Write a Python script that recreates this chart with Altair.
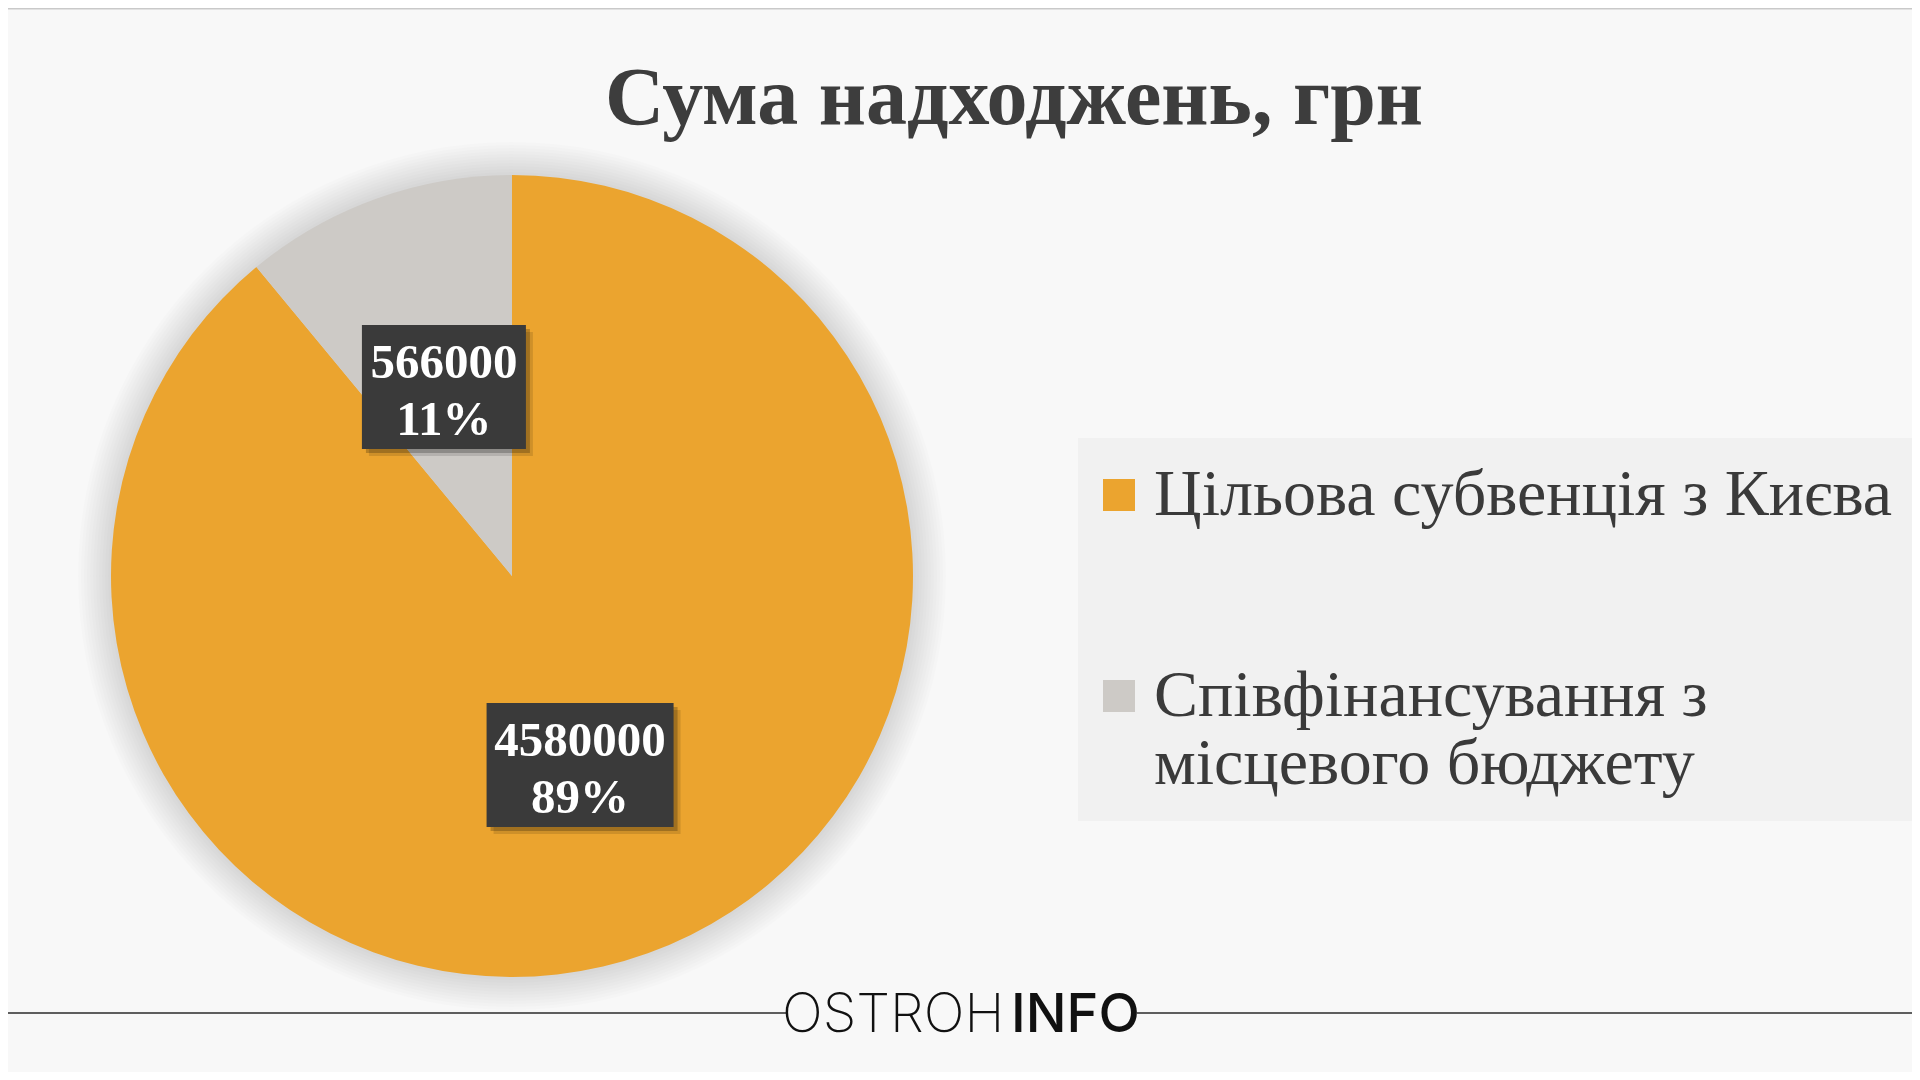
import json
import altair as alt
import pandas as pd

# ---- data ----
categories = ["Цільова субвенція з Києва", "Співфінансування з місцевого бюджету"]
amounts = [4580000, 566000]
legend_lines = [["Цільова субвенція з Києва"], ["Співфінансування з", "місцевого бюджету"]]
slice_colors = ["#EBA42F", "#CDCAC6"]
title_text = "Сума надходжень, грн"
brand_light = "OSTROH"
brand_bold = "INFO"

df = pd.DataFrame({
    "category": categories,
    "amount": amounts,
    "slice_order": list(range(len(categories))),
})

# ---- layout / style ----
W, H = 1904, 1064
CX, CY, R = 504, 568, 401
LABEL_R = 201
SERIF = "Liberation Serif"
dummy = alt.Data(values=[{}])

# multi-line legend labels
label_expr = "datum.label"
for name, lines in zip(categories, legend_lines):
    if len(lines) > 1:
        label_expr = (f"datum.label === {json.dumps(name, ensure_ascii=False)} ? "
                      f"{json.dumps(lines, ensure_ascii=False)} : " + label_expr)

legend = alt.Legend(
    title=None, orient="none", legendX=1070, legendY=430,
    fillColor="#f1f1f1", padding=24, rowPadding=135,
    symbolType="square", symbolSize=1024, symbolStrokeWidth=0, symbolOffset=-16,
    labelFont=SERIF, labelFontSize=66, labelColor="#3a3a3a",
    labelLimit=1000, labelOffset=2, labelBaseline="middle",
    labelExpr=label_expr,
)

# soft shadow around the pie
rings = []
for d in range(3, 34, 3):
    rings.append(
        alt.Chart(dummy).mark_arc(radius=R + d, theta=0, theta2=6.2832,
                                  color="#000000", opacity=0.01)
        .encode(x=alt.value(CX), y=alt.value(CY))
    )

pie = alt.Chart(df).mark_arc(radius=R).encode(
    theta=alt.Theta("amount:Q", stack=True),
    order=alt.Order("slice_order:Q"),
    color=alt.Color("category:N",
                    scale=alt.Scale(domain=categories, range=slice_colors),
                    legend=legend),
    x=alt.value(CX), y=alt.value(CY),
)

lab = alt.Chart(df).transform_joinaggregate(
    total="sum(amount)"
).transform_window(
    cum="sum(amount)", sort=[alt.SortField("slice_order", order="ascending")], frame=[None, 0]
).transform_calculate(
    mid="2 * PI * (datum.cum - datum.amount / 2) / datum.total",
    lx=f"{CX} + {LABEL_R} * sin(datum.mid)",
    ly=f"{CY} - {LABEL_R} * cos(datum.mid)",
    bw="23 * length(format(datum.amount, 'd')) + 26",
    bx1="datum.lx - datum.bw / 2",
    bx2="datum.lx + datum.bw / 2",
    by1="datum.ly - 62",
    by2="datum.ly + 62",
    txt="format(datum.amount, 'd') + '\\n' + format(datum.amount / datum.total, '.0%')",
)


def box(dx, dy, color, opacity):
    return lab.mark_rect(color=color, opacity=opacity,
                         xOffset=dx, x2Offset=dx, yOffset=dy, y2Offset=dy).encode(
        x=alt.X("bx1:Q", scale=None, axis=None), x2="bx2:Q",
        y=alt.Y("by1:Q", scale=None, axis=None), y2="by2:Q",
    )


box_shadows = [box(7, 7, "#000000", 0.12), box(4, 4, "#000000", 0.22)]
boxes = box(0, 0, "#3a3a3a", 1)

texts = lab.mark_text(font=SERIF, fontSize=49, fontWeight="bold", color="#ffffff",
                      lineBreak="\n", lineHeight=57, dy=-24, align="center",
                      baseline="middle").encode(
    x=alt.X("lx:Q", scale=None, axis=None),
    y=alt.Y("ly:Q", scale=None, axis=None),
    text="txt:N",
)

top_rule = alt.Chart(dummy).mark_rule(color="#c9c9c9", strokeWidth=3).encode(
    x=alt.value(0), x2=alt.value(W), y=alt.value(0))
rule_left = alt.Chart(dummy).mark_rule(color="#2b2b2b", strokeWidth=1.5).encode(
    x=alt.value(0), x2=alt.value(778), y=alt.value(1005))
rule_right = alt.Chart(dummy).mark_rule(color="#2b2b2b", strokeWidth=1.5).encode(
    x=alt.value(1129), x2=alt.value(W), y=alt.value(1005))
logo1 = alt.Chart(dummy).mark_text(text=brand_light, font="Inter", fontSize=54, fontWeight=200,
                                   align="left", baseline="alphabetic", color="#111111").encode(
    x=alt.value(774), y=alt.value(1024))
logo2 = alt.Chart(dummy).mark_text(text=brand_bold, font="Inter", fontSize=54, fontWeight=500,
                                   align="left", baseline="alphabetic", color="#111111").encode(
    x=alt.value(1003), y=alt.value(1024))

chart = alt.layer(
    *rings, pie, *box_shadows, boxes, texts,
    top_rule, rule_left, rule_right, logo1, logo2,
).properties(
    width=W, height=H, padding=0,
    autosize=alt.AutoSizeParams(type="none"),
    background="#f8f8f8",
    title=alt.Title(title_text, font=SERIF, fontSize=82, fontWeight="bold", color="#3d3d3d",
                    anchor="middle", frame="group", dx=54, baseline="alphabetic", offset=-199),
).configure_view(strokeWidth=0)

chart.save("out.html", embed_options={"renderer": "svg", "actions": False})
